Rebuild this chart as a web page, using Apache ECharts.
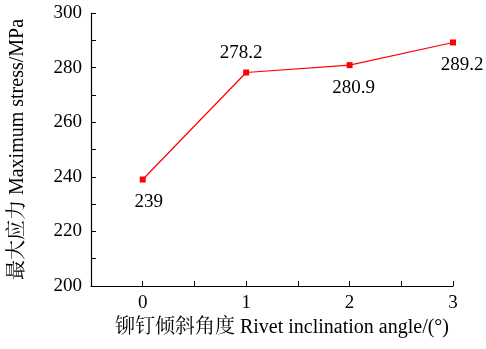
<!DOCTYPE html>
<html><head><meta charset="utf-8">
<script src="https://cdn.jsdelivr.net/npm/echarts@6/dist/echarts.min.js"></script>
<style>html,body{margin:0;padding:0;background:#fff}#c{width:486px;height:349px}</style>
</head><body><div id="c"></div>
<script>
const categories = [0, 1, 2, 3];
const stressValues = [239, 278.2, 280.9, 289.2];
const labelPositions = ['bottom', 'top', 'bottom', 'bottom'];
const labelShiftX = [6, -5, 4, 9];
const yTicks = [200, 220, 240, 260, 280, 300];

const font = '"Liberation Serif", "Times New Roman", "Noto Serif CJK SC", "Noto Sans CJK SC", serif';
const chart = echarts.init(document.getElementById('c'));
chart.setOption({
  animation: false,
  grid: {left: 91, top: 13, right: 33, bottom: 63},
  xAxis: {
    type: 'value', min: -0.5, max: 3, interval: 0.5,
    name: '铆钉倾斜角度 Rivet inclination angle/(°)',
    nameLocation: 'middle', nameGap: 32,
    nameTextStyle: {fontFamily: font, fontSize: 20, color: '#000', padding: [0, 0, 0, 20]},
    axisLine: {onZero: false, lineStyle: {color: '#000', width: 1.2}},
    axisTick: {inside: true, length: 5, lineStyle: {color: '#000'}},
    axisLabel: {fontFamily: font, fontSize: 19, color: '#000', margin: 8,
      formatter: v => categories.includes(v) ? String(v) : ''},
    splitLine: {show: false}
  },
  yAxis: {
    type: 'value', min: 200, max: 300, interval: 10,
    name: '最大应力 Maximum stress/MPa',
    nameLocation: 'middle', nameGap: 63,
    nameTextStyle: {fontFamily: font, fontSize: 20, color: '#000'},
    axisLine: {show: true, onZero: false, lineStyle: {color: '#000', width: 1.2}},
    axisTick: {inside: true, length: 5, lineStyle: {color: '#000'}},
    axisLabel: {fontFamily: font, fontSize: 19, color: '#000', margin: 9,
      formatter: v => yTicks.includes(v) ? String(v) : ''},
    splitLine: {show: false}
  },
  series: [{
    type: 'line',
    data: categories.map((c, i) => ({
      value: [c, stressValues[i]],
      label: {position: labelPositions[i], distance: labelPositions[i] === 'top' ? 7 : 10,
        offset: [labelShiftX[i], 0]}
    })),
    symbol: 'rect', symbolSize: 6,
    lineStyle: {color: '#ff0000', width: 1.2},
    itemStyle: {color: '#ff0000'},
    label: {show: true, fontFamily: font, fontSize: 19, color: '#000',
      formatter: p => String(p.value[1])}
  }]
});
</script></body></html>
